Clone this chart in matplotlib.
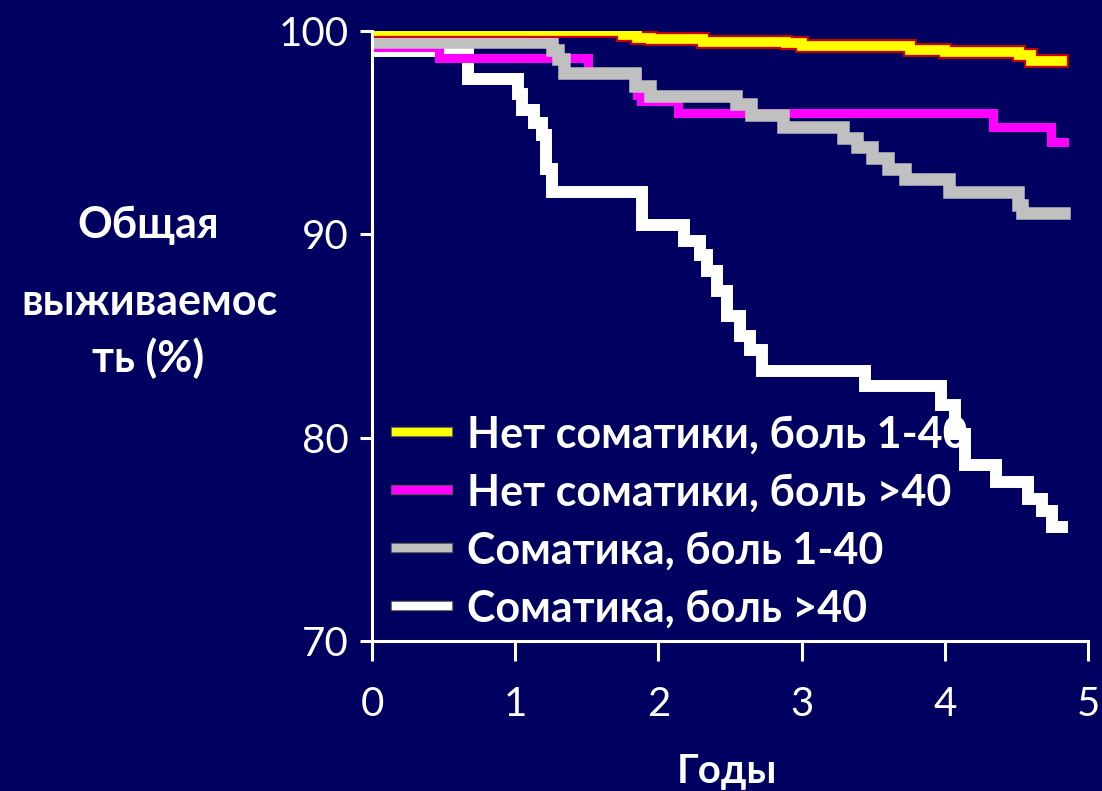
import numpy as np
import matplotlib.pyplot as plt
import matplotlib.patheffects as pe

# Kaplan-Meier steps: (time in years, survival %), last time = end of follow-up
t_yellow = [0.03, 1.75, 1.85, 1.95, 2.31, 2.89, 3.0, 3.76, 4.0, 4.52, 4.6, 4.82]
s_yellow = [100.0, 99.8, 99.65, 99.6, 99.47, 99.4, 99.26, 99.05, 98.95, 98.8, 98.54, 98.54]

t_magenta = [0.03, 0.47, 1.51, 1.85, 1.88, 2.14, 4.34, 4.74, 4.83]
s_magenta = [99.2, 98.65, 97.9, 96.85, 96.58, 95.95, 95.3, 94.55, 94.55]

t_gray = [0.03, 1.26, 1.30, 1.34, 1.84, 1.94, 2.54, 2.65, 2.87, 3.29, 3.39, 3.49,
          3.60, 3.72, 4.03, 4.51, 4.54, 4.83]
s_gray = [99.44, 99.07, 98.6, 97.92, 97.3, 96.82, 96.4, 95.87, 95.3, 94.75, 94.3, 93.75,
          93.2, 92.7, 92.1, 91.44, 91.05, 91.05]

t_white = [0.03, 0.67, 1.02, 1.05, 1.13, 1.19, 1.215, 1.26, 1.885, 2.18, 2.29, 2.34,
           2.41, 2.48, 2.57, 2.64, 2.72, 3.44, 3.97, 4.07, 4.14, 4.36, 4.58, 4.68,
           4.75, 4.82]
s_white = [99.04, 97.64, 96.9, 96.1, 95.5, 94.9, 93.2, 92.06, 90.48, 89.65, 89.0, 88.2,
           87.2, 86.0, 85.0, 84.3, 83.3, 82.56, 81.6, 80.2, 78.65, 77.8, 77.0, 76.4,
           75.6, 75.6]

labels = ["Нет соматики, боль 1-40", "Нет соматики, боль >40",
          "Соматика, боль 1-40", "Соматика, боль >40"]
xticks = [0, 1, 2, 3, 4, 5]
yticks = [70, 80, 90, 100]

bg = '#000060'
plt.rcParams['font.family'] = ['Lato', 'DejaVu Sans']

fig = plt.figure(figsize=(11.02, 7.91), dpi=100, facecolor=bg)
ax = fig.add_axes([372/1102, 1 - 641/791, (1088-372)/1102, (641-31)/791])
ax.set_facecolor(bg)

lw_w, = ax.step(t_white, s_white, where='post', color='white', lw=8.6,
                solid_joinstyle='miter')
lw_m, = ax.step(t_magenta, s_magenta, where='post', color='#FF00FF', lw=6.5,
                solid_joinstyle='miter')
lw_g, = ax.step(t_gray, s_gray, where='post', color='#C0C0C0', lw=9,
                solid_joinstyle='miter')
lw_y, = ax.step(t_yellow, s_yellow, where='post', color='#FFFF00', lw=7,
                solid_joinstyle='miter',
                path_effects=[pe.Stroke(linewidth=10, foreground='#CC0000'), pe.Normal()])

ax.set_xlim(0, 5)
ax.set_ylim(70, 100)
ax.set_xticks(xticks)
ax.set_yticks(yticks)
for s in ['top', 'right']:
    ax.spines[s].set_visible(False)
for s in ['left', 'bottom']:
    ax.spines[s].set_color('white')
    ax.spines[s].set_linewidth(2.2)
ax.tick_params(axis='x', direction='out', length=14.4, width=2.2, color='white',
               labelcolor='white', labelsize=29, pad=18)
ax.tick_params(axis='y', direction='out', length=8.6, width=2.2, color='white',
               labelcolor='white', labelsize=29, pad=8)

leg = ax.legend([lw_y, lw_m, lw_g, lw_w], labels, loc='upper left',
                bbox_to_anchor=(0.01, 0.40), frameon=False,
                prop={'weight': 'bold', 'size': 31}, handlelength=1.2,
                handletextpad=0.45, labelspacing=0.42, borderaxespad=0)
for h in leg.get_lines():
    h.set_linewidth(6)
    h.set_path_effects([pe.Stroke(linewidth=7.5, foreground='#505050'), pe.Normal()])
for txt in leg.get_texts():
    txt.set_color('white')

fig.text(148/1102, 1 - 225/791, "Общая", color='white', fontsize=31,
         fontweight='bold', ha='center', va='center')
fig.text(150/1102, 1 - 302/791, "выживаемос", color='white', fontsize=31,
         fontweight='bold', ha='center', va='center')
fig.text(148/1102, 1 - 358/791, "ть (%)", color='white', fontsize=31,
         fontweight='bold', ha='center', va='center')
fig.text(727/1102, 1 - 772/791, "Годы", color='white', fontsize=29,
         fontweight='bold', ha='center', va='center')

fig.savefig('out.png', dpi=100, facecolor=bg)
